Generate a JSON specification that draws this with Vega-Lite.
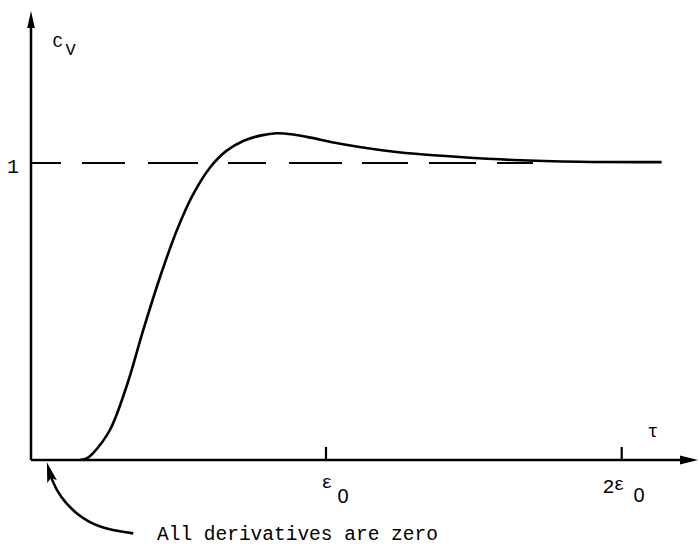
{
  "$schema": "https://vega.github.io/schema/vega-lite/v6.json",
  "width": 699,
  "height": 551,
  "padding": 0,
  "autosize": {"type": "fit", "contains": "padding"},
  "background": "white",
  "config": {"view": {"stroke": null}},
  "datasets": {
    "curve": [
      {"x": 0.166, "y": 0.0},
      {"x": 0.19, "y": 0.006},
      {"x": 0.211, "y": 0.024},
      {"x": 0.267, "y": 0.101},
      {"x": 0.324, "y": 0.25},
      {"x": 0.38, "y": 0.438},
      {"x": 0.437, "y": 0.617},
      {"x": 0.493, "y": 0.772},
      {"x": 0.549, "y": 0.895},
      {"x": 0.606, "y": 0.985},
      {"x": 0.66, "y": 1.04},
      {"x": 0.72, "y": 1.075},
      {"x": 0.78, "y": 1.093},
      {"x": 0.831, "y": 1.1},
      {"x": 0.88, "y": 1.097},
      {"x": 0.933, "y": 1.088},
      {"x": 1.046, "y": 1.065},
      {"x": 1.181, "y": 1.044},
      {"x": 1.3, "y": 1.031},
      {"x": 1.45, "y": 1.02},
      {"x": 1.631, "y": 1.01},
      {"x": 1.858, "y": 1.004},
      {"x": 2.134, "y": 1.003}
    ],
    "note": [
      {"x": 0.346, "y": -0.247},
      {"x": 0.2335, "y": -0.23},
      {"x": 0.155, "y": -0.185},
      {"x": 0.098, "y": -0.124},
      {"x": 0.07, "y": -0.067},
      {"x": 0.06, "y": -0.03}
    ],
    "rules": [
      {"x": 0, "y": 0, "x2": 0, "y2": 1.4832, "kind": "axis"},
      {"x": 0, "y": 0, "x2": 2.2268, "y2": 0, "kind": "axis"},
      {"x": 0.9983, "y": 0, "x2": 0.9983, "y2": 0.0438, "kind": "tick"},
      {"x": 1.999, "y": 0, "x2": 1.999, "y2": 0.0438, "kind": "tick"}
    ],
    "refline": [{"x": 0, "x2": 1.699, "y": 1}],
    "arrows": [
      {"x": 0, "y": 1.4832, "kind": "up"},
      {"x": 2.2268, "y": 0, "kind": "right"},
      {"x": 0.0626, "y": -0.0404, "kind": "note"}
    ],
    "labels": [
      {"x": -0.0609, "y": 0.9663, "text": "1", "role": "main"},
      {"x": 1.9543, "y": -0.1111, "text": "2", "role": "main"},
      {"x": 1.0558, "y": -0.1448, "text": "0", "role": "sub"},
      {"x": 2.0575, "y": -0.1414, "text": "0", "role": "sub"},
      {"x": 1.0017, "y": -0.0943, "text": "ε", "role": "eps"},
      {"x": 1.99, "y": -0.101, "text": "ε", "role": "eps"},
      {"x": 0.0897, "y": 1.3906, "text": "C", "role": "small"},
      {"x": 0.1337, "y": 1.3636, "text": "V", "role": "small"},
      {"x": 2.1049, "y": 0.0774, "text": "τ", "role": "tau"},
      {"x": 0.4264, "y": -0.2694, "text": "All derivatives are zero", "role": "note"}
    ]
  },
  "encoding": {
    "x": {"field": "x", "type": "quantitative", "scale": {"domain": [-0.1049, 2.2606], "nice": false, "zero": false}, "axis": null},
    "y": {"field": "y", "type": "quantitative", "scale": {"domain": [-0.3064, 1.5488], "nice": false, "zero": false}, "axis": null}
  },
  "layer": [
    {
      "data": {"name": "rules"},
      "transform": [{"filter": "datum.kind === 'axis'"}],
      "mark": {"type": "rule", "color": "black", "strokeWidth": 2.5},
      "encoding": {"x2": {"field": "x2"}, "y2": {"field": "y2"}}
    },
    {
      "data": {"name": "rules"},
      "transform": [{"filter": "datum.kind === 'tick'"}],
      "mark": {"type": "rule", "color": "black", "strokeWidth": 2.2},
      "encoding": {"x2": {"field": "x2"}, "y2": {"field": "y2"}}
    },
    {
      "data": {"name": "refline"},
      "mark": {"type": "rule", "color": "black", "strokeWidth": 2, "strokeDash": [30, 21, 43, 23, 50, 30, 38, 23, 53, 20, 46, 21, 47, 21, 36, 10]},
      "encoding": {"x2": {"field": "x2"}}
    },
    {
      "data": {"name": "curve"},
      "mark": {"type": "line", "color": "black", "strokeWidth": 2.6, "interpolate": "catmull-rom"}
    },
    {
      "data": {"name": "note"},
      "mark": {"type": "line", "color": "black", "strokeWidth": 2.6, "interpolate": "basis"}
    },
    {
      "data": {"name": "arrows"},
      "transform": [{"filter": "datum.kind === 'up'"}],
      "mark": {"type": "point", "filled": true, "color": "black", "opacity": 1, "shape": "M0,-1L0.45,1L-0.45,1Z", "size": 289}
    },
    {
      "data": {"name": "arrows"},
      "transform": [{"filter": "datum.kind === 'right'"}],
      "mark": {"type": "point", "filled": true, "color": "black", "opacity": 1, "shape": "M1,0L-1,0.5L-1,-0.5Z", "size": 324}
    },
    {
      "data": {"name": "arrows"},
      "transform": [{"filter": "datum.kind === 'note'"}],
      "mark": {"type": "point", "filled": true, "color": "black", "opacity": 1, "shape": "M0,-1L0.5,1L0,0.6L-0.5,1Z", "size": 400, "angle": -15}
    },
    {
      "data": {"name": "labels"},
      "transform": [{"filter": "datum.role === 'main'"}],
      "mark": {"type": "text", "font": "Liberation Mono", "fontSize": 20, "align": "center", "baseline": "alphabetic", "color": "black"},
      "encoding": {"text": {"field": "text"}}
    },
    {
      "data": {"name": "labels"},
      "transform": [{"filter": "datum.role === 'sub'"}],
      "mark": {"type": "text", "font": "Liberation Sans", "fontSize": 20, "align": "center", "baseline": "alphabetic", "color": "black"},
      "encoding": {"text": {"field": "text"}}
    },
    {
      "data": {"name": "labels"},
      "transform": [{"filter": "datum.role === 'eps'"}],
      "mark": {"type": "text", "font": "Liberation Mono", "fontSize": 18, "align": "center", "baseline": "alphabetic", "color": "black"},
      "encoding": {"text": {"field": "text"}}
    },
    {
      "data": {"name": "labels"},
      "transform": [{"filter": "datum.role === 'small'"}],
      "mark": {"type": "text", "font": "Liberation Mono", "fontSize": 17, "align": "center", "baseline": "alphabetic", "color": "black"},
      "encoding": {"text": {"field": "text"}}
    },
    {
      "data": {"name": "labels"},
      "transform": [{"filter": "datum.role === 'tau'"}],
      "mark": {"type": "text", "font": "Liberation Mono", "fontSize": 18, "align": "center", "baseline": "alphabetic", "color": "black"},
      "encoding": {"text": {"field": "text"}}
    },
    {
      "data": {"name": "labels"},
      "transform": [{"filter": "datum.role === 'note'"}],
      "mark": {"type": "text", "font": "Liberation Mono", "fontSize": 19.5, "align": "left", "baseline": "alphabetic", "color": "black"},
      "encoding": {"text": {"field": "text"}}
    }
  ]
}
